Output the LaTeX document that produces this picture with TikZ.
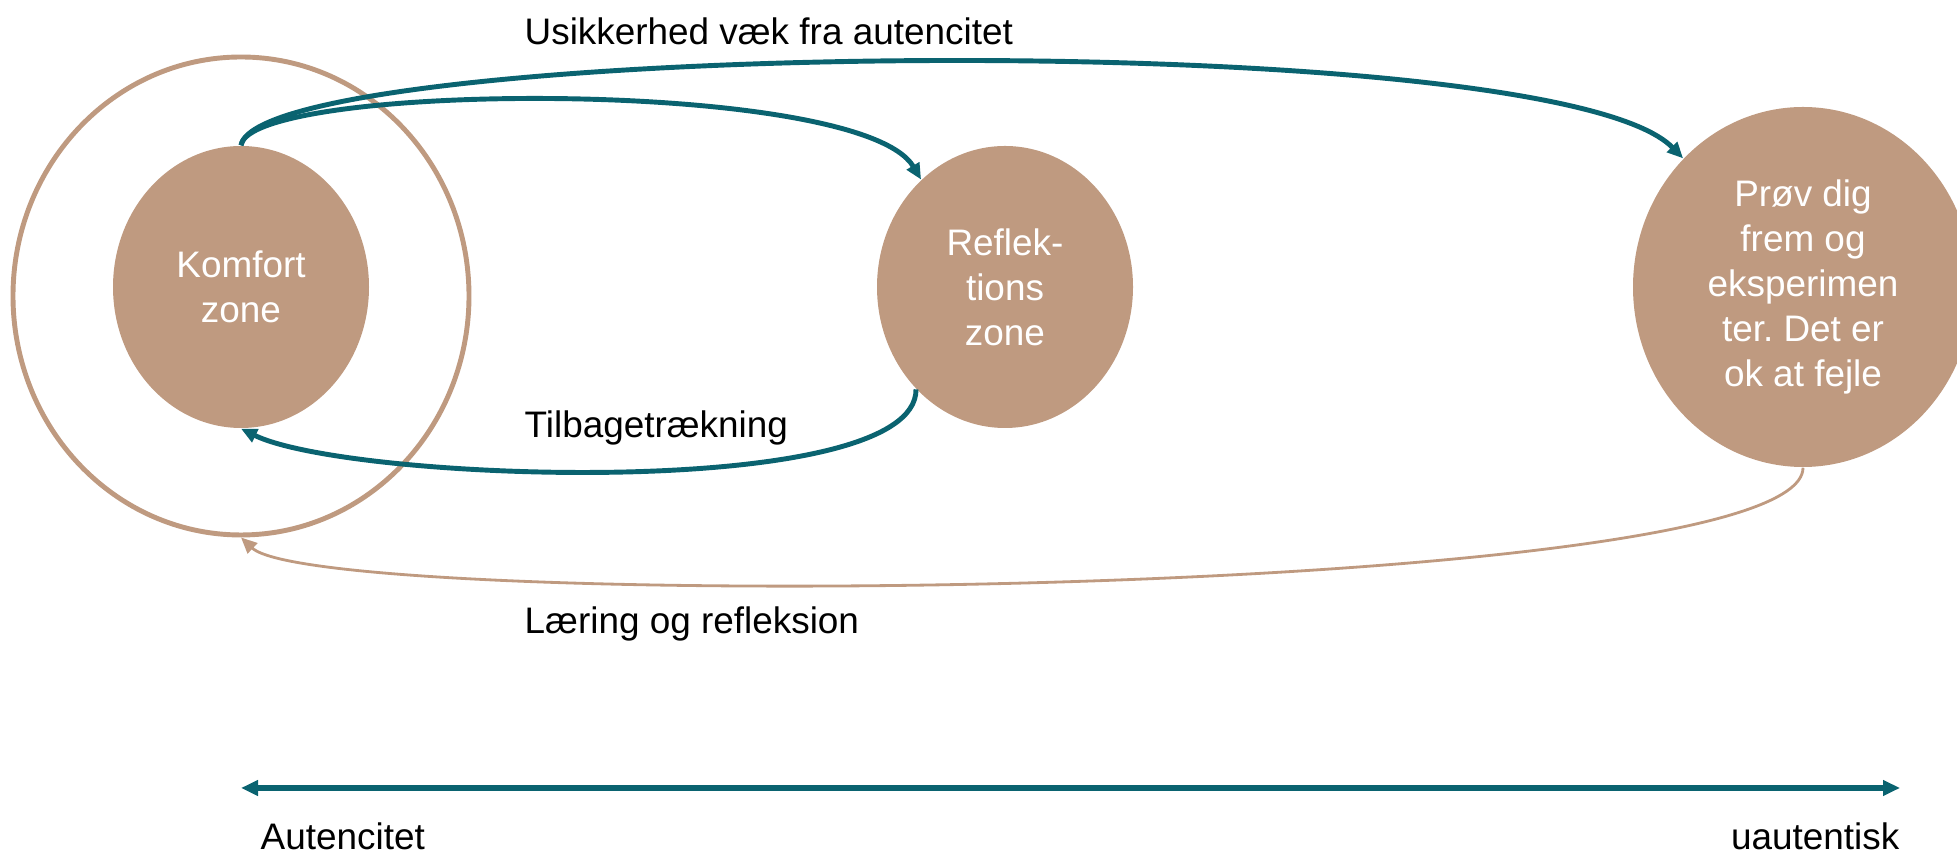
\documentclass[tikz,border=0pt]{standalone}
\usepackage{fontspec}
\setmainfont{Liberation Sans}
\usepackage{tikz}
\usetikzlibrary{calc, shapes.geometric, arrows.meta}
\usepackage{tkz-euclide}
\definecolor{petrol}{RGB}{10,99,112}
\definecolor{sand}{RGB}{191,154,128}
\frenchspacing

\begin{document}
\begin{tikzpicture}[font=\fontsize{10.5}{12.8}\selectfont,
	zone/.style={ellipse, fill=sand, text=white, align=center, inner sep=0pt},
	move/.style={draw=petrol, line width=1.4pt, -{Triangle[length=1.6mm, width=1.4mm]}},
	learn/.style={draw=sand, line width=0.8pt, -{Triangle[length=1.6mm, width=1.4mm]}},
	lbl/.style={anchor=west, inner sep=0pt}]
	\useasboundingbox (0,0) rectangle (19.57,8.52);
	\tkzDefPoints{2.41/5.65/K, 10.05/5.65/R, 18.03/5.65/P, 2.41/5.56/O}

	\node[ellipse, draw=sand, line width=1.4pt, minimum width=4.56cm, minimum height=4.78cm] (ring) at (O) {};
	\node[zone, minimum width=2.56cm, minimum height=2.82cm] (komfort) at (K) {Komfort\\zone};
	\node[zone, minimum width=2.56cm, minimum height=2.82cm] (refleks) at (R) {Reflek-\\tions\\zone};
	\node[zone, minimum width=3.40cm, minimum height=3.60cm] (prov) at (P) {Prøv dig\\frem og\\eksperimen\\ter. Det er\\ok at fejle};

	\draw[move] (komfort.north) .. controls (2.6,8.1) and (15.5,8.3) .. (prov.133);
	\draw[move] (komfort.north) .. controls (2.5,7.7) and (8.6,7.75) .. (refleks.128);
	\draw[move] (refleks.229) .. controls (9.17,3.5) and (3.5,3.7) .. (komfort.south);
	\draw[learn] (prov.south) .. controls (18.03,2.5) and (3.2,2.4) .. (ring.south);

	\node[lbl] (usikker) at (5.24,8.21) {Usikkerhed væk fra autencitet};
	\node[lbl] (tilbage) at (5.24,4.24) {Tilbagetrækning};
	\node[lbl] (laering) at (5.24,2.28) {Læring og refleksion};

	\coordinate (aut) at (2.41,0.64);
	\coordinate (uaut) at (19.0,0.64);
	\draw[petrol, line width=1.7pt, {Triangle[length=1.7mm, width=1.5mm]}-{Triangle[length=1.7mm, width=1.5mm]}] (aut) -- (uaut);
	\node[lbl] (autlbl) at (2.60,0.16) {Autencitet};
	\node[lbl, anchor=east] (uautlbl) at (19.0,0.16) {uautentisk};
\end{tikzpicture}
\end{document}
